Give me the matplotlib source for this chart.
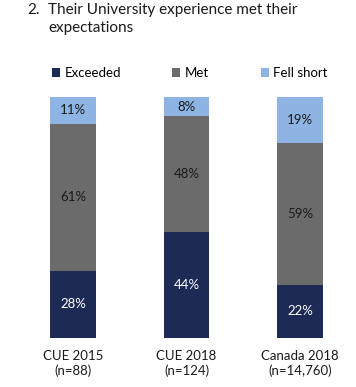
import matplotlib
matplotlib.use('Agg')
from matplotlib import pyplot as plt
import numpy as np

plt.rcParams['font.family'] = ['Lato', 'DejaVu Sans']

# data
groups = ['CUE 2015\n(n=88)', 'CUE 2018\n(n=124)', 'Canada 2018\n(n=14,760)']
exceeded = [28, 44, 22]
met = [61, 48, 59]
fell_short = [11, 8, 19]
series_names = ['Exceeded', 'Met', 'Fell short']
colors = ['#1c2a55', '#6b6b6b', '#8db4e2']
label_colors = ['white', '#1a1a1a', '#1a1a1a']

W, H = 356, 387
fig = plt.figure(figsize=(W / 100, H / 100), dpi=100)

# axes placed in pixel terms: bars centred at 73, 186, 300 px; 0 at y=338, 100 at y=97
ax = fig.add_axes([16.25 / W, (H - 338) / H, 340.5 / W, 241 / H])

x = np.arange(len(groups))
bottom = np.zeros(len(groups))
handles = []
for vals, name, col, lc in zip([exceeded, met, fell_short], series_names, colors, label_colors):
    bars = ax.bar(x, vals, width=0.405, bottom=bottom, color=col, label=name)
    handles.append(bars)
    for xi, b, v in zip(x, bottom, vals):
        ax.text(xi, b + v / 2, '%d%%' % v, ha='center', va='center',
                fontsize=9.5, color=lc)
    bottom += np.array(vals)

ax.set_xlim(-0.5, 2.5)
ax.set_ylim(0, 100)
ax.set_yticks([])
ax.set_xticks(x)
ax.set_xticklabels(groups, fontsize=9.5, color='#1a1a1a', linespacing=1.2)
ax.tick_params(axis='x', length=0, pad=9)
for s in ax.spines.values():
    s.set_visible(False)

# title with hanging number
fig.text(27 / W, 1 - 3 / H, '2.', fontsize=11, color='#1a1a1a', va='top')
fig.text(48 / W, 1 - 3 / H, 'Their University experience met their\nexpectations',
         fontsize=11, color='#1a1a1a', va='top', linespacing=1.35)

fig.legend(handles=handles, labels=series_names, loc='center left',
           bbox_to_anchor=(52 / W, 1 - 73 / H), ncol=3, frameon=False,
           fontsize=9.5, handlelength=0.6, handleheight=0.6, handletextpad=0.35,
           columnspacing=3.9, borderpad=0, borderaxespad=0)

fig.savefig('out.png', dpi=100)
